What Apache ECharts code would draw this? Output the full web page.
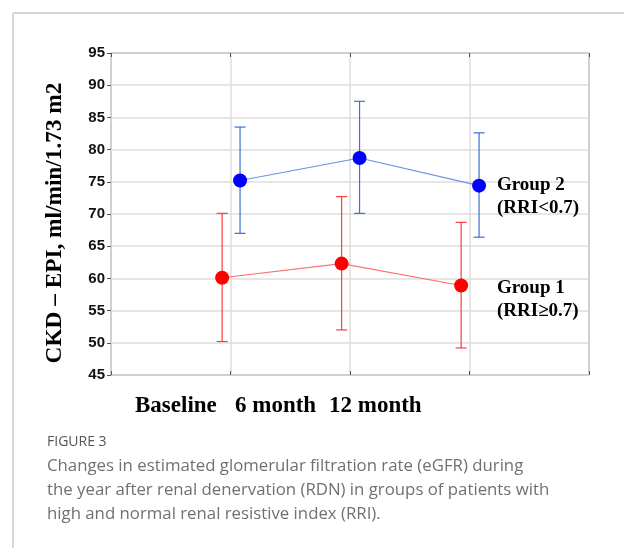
<!DOCTYPE html>
<html><head><meta charset="utf-8">
<script src="https://cdn.jsdelivr.net/npm/echarts@6/dist/echarts.min.js"></script>
<style>html,body{margin:0;padding:0;background:#fff;}#c{width:624px;height:548px;}</style>
</head><body><div id="c"></div>
<script>
const categories = ['Baseline', '6 month', '12 month'];
const yTicks = [45, 50, 55, 60, 65, 70, 75, 80, 85, 90, 95];
const group1Mean = [60.1, 62.3, 58.9];
const group1Low  = [50.2, 52.0, 49.2];
const group1High = [70.1, 72.7, 68.7];
const group2Mean = [75.2, 78.7, 74.4];
const group2Low  = [67.0, 70.1, 66.4];
const group2High = [83.5, 87.5, 82.6];
const groupLabels = [['Group 2', '(RRI<0.7)'], ['Group 1', '(RRI\u22650.7)']];
const figureLabel = 'FIGURE 3';
const captionLines = [
  'Changes in estimated glomerular filtration rate (eGFR) during',
  'the year after renal denervation (RDN) in groups of patients with',
  'high and normal renal resistive index (RRI).'
];
const yTitle = 'CKD \u2013 EPI, ml/min/1.73 m2';

const dodge1 = -0.07, dodge2 = 0.08;
function pts(mean, d) { return mean.map((v, i) => [i + 1 + d, v]); }
function errs(lo, hi, d) { return lo.map((v, i) => [i + 1 + d, v, hi[i]]); }

function errRender(color) {
  return function (params, api) {
    const x = api.value(0);
    const p1 = api.coord([x, api.value(1)]);
    const p2 = api.coord([x, api.value(2)]);
    const hw = 5.5;
    const st = { stroke: color, lineWidth: 1.2 };
    return { type: 'group', children: [
      { type: 'line', shape: { x1: p1[0], y1: p1[1], x2: p2[0], y2: p2[1] }, style: st },
      { type: 'line', shape: { x1: p1[0] - hw, y1: p1[1], x2: p1[0] + hw, y2: p1[1] }, style: st },
      { type: 'line', shape: { x1: p2[0] - hw, y1: p2[1], x2: p2[0] + hw, y2: p2[1] }, style: st }
    ]};
  };
}

const chart = echarts.init(document.getElementById('c'));
const serif = '"Liberation Serif", "Times New Roman", serif';
const xLabelLefts = [135, 235, 329];
const graphics = [
  { type: 'line', z: 100, shape: { x1: 13, y1: 13, x2: 624, y2: 13 }, style: { stroke: '#c8c8c8', lineWidth: 1.5 } },
  { type: 'line', z: 100, shape: { x1: 13, y1: 13, x2: 13, y2: 548 }, style: { stroke: '#c8c8c8', lineWidth: 1.5 } },
  { type: 'text', z: 100, x: 55, y: 223, rotation: Math.PI / 2,
    style: { text: yTitle, x: 0, y: 0, textAlign: 'center', textVerticalAlign: 'middle', font: 'bold 23.3px ' + serif, fill: '#000' } },
  { type: 'text', z: 100, left: 47, top: 435, style: { text: figureLabel, font: '14px "Open Sans"', fill: '#555' } }
];
categories.forEach((c, i) => graphics.push({ type: 'text', z: 100, left: xLabelLefts[i], top: 395,
  style: { text: c, font: 'bold 23px ' + serif, fill: '#000' } }));
const glTops = [[176, 199], [279, 302]];
groupLabels.forEach((g, i) => g.forEach((t, j) => graphics.push({ type: 'text', z: 100, left: 497, top: glTops[i][j],
  style: { text: t, font: 'bold 19px ' + serif, fill: '#000' } })));
captionLines.forEach((t, i) => graphics.push({ type: 'text', z: 100, left: 47, top: 458 + i * 24,
  style: { text: t, font: '16.8px "Open Sans"', fill: '#707070' } }));

chart.setOption({
  animation: false,
  grid: { left: 111, right: 35, top: 53, bottom: 173, show: true, borderColor: '#555', borderWidth: 1 },
  xAxis: [
    { type: 'value', min: 0, max: 4, interval: 1, axisLabel: { show: false },
      axisLine: { show: false }, axisTick: { show: true, inside: true, length: 4, lineStyle: { color: '#555' } },
      splitLine: { show: true, lineStyle: { color: '#dedede', width: 1.5 } } },
    { type: 'value', position: 'top', min: 0, max: 4, interval: 1, axisLabel: { show: false },
      axisLine: { show: false }, axisTick: { show: true, inside: true, length: 4, lineStyle: { color: '#555' } },
      splitLine: { show: false } }
  ],
  yAxis: [
    { type: 'value', min: yTicks[0], max: yTicks[yTicks.length - 1], interval: 5,
      axisLine: { show: false }, axisTick: { show: false },
      axisLabel: { color: '#111', fontWeight: 'bold', fontSize: 15, fontFamily: '"Liberation Sans", Arial', margin: 6 },
      splitLine: { show: true, lineStyle: { color: '#dedede', width: 1.5 } } },
    { type: 'value', position: 'right', min: yTicks[0], max: yTicks[yTicks.length - 1], interval: 5,
      axisLine: { show: false }, axisTick: { show: true, inside: true, length: 4, lineStyle: { color: '#555' } },
      axisLabel: { show: false }, splitLine: { show: false } }
  ],
  graphic: graphics,
  series: [
    { type: 'custom', renderItem: errRender('#ff3b3b'), data: errs(group1Low, group1High, dodge1), z: 2 },
    { type: 'custom', renderItem: errRender('#3a6fd6'), data: errs(group2Low, group2High, dodge2), z: 2 },
    { type: 'line', data: pts(group1Mean, dodge1), symbol: 'circle', symbolSize: 14,
      lineStyle: { color: '#ff7070', width: 1.2 }, itemStyle: { color: '#ff0000' }, z: 3 },
    { type: 'line', data: pts(group2Mean, dodge2), symbol: 'circle', symbolSize: 14,
      lineStyle: { color: '#6496e0', width: 1.2 }, itemStyle: { color: '#0000ff' }, z: 3 }
  ]
});
</script></body></html>
